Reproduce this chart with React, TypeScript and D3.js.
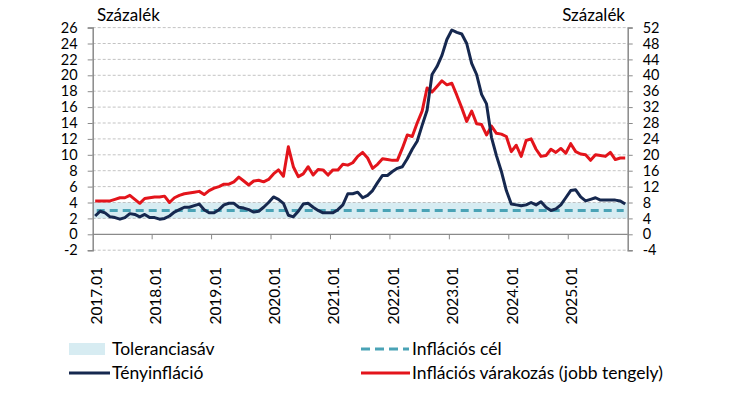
import React, { useEffect, useRef } from "react";
import * as d3 from "d3";

// Categories: monthly, 2017.01 - 2025.12
const years = [2017, 2018, 2019, 2020, 2021, 2022, 2023, 2024, 2025];
const months = years.flatMap((y) =>
  ["01", "02", "03", "04", "05", "06", "07", "08", "09", "10", "11", "12"].map((m) => `${y}.${m}`)
);

// Tényinfláció (left axis, %)
const actualInflation = [
  2.3, 2.9, 2.7, 2.2, 2.1, 1.9, 2.1, 2.6, 2.5, 2.2, 2.5, 2.1,
  2.1, 1.9, 2.0, 2.3, 2.8, 3.1, 3.4, 3.4, 3.6, 3.8, 3.1, 2.7,
  2.7, 3.1, 3.7, 3.9, 3.9, 3.4, 3.3, 3.1, 2.8, 2.9, 3.4, 4.0,
  4.7, 4.4, 3.9, 2.4, 2.2, 2.9, 3.8, 3.9, 3.4, 3.0, 2.7, 2.7,
  2.7, 3.1, 3.7, 5.1, 5.1, 5.3, 4.6, 4.9, 5.5, 6.5, 7.4, 7.4,
  7.9, 8.3, 8.5, 9.5, 10.7, 11.7, 13.7, 15.6, 20.1, 21.1, 22.5, 24.5,
  25.7, 25.4, 25.2, 24.0, 21.5, 20.1, 17.6, 16.4, 12.2, 9.9, 7.9, 5.5,
  3.8, 3.7, 3.6, 3.7, 4.0, 3.7, 4.1, 3.4, 3.0, 3.2, 3.7, 4.6,
  5.5, 5.6, 4.7, 4.2, 4.4, 4.6, 4.3, 4.3, 4.3, 4.3, 4.2, 3.8,
];

// Inflációs várakozás (right axis, %)
const expectations = [
  8.4, 8.4, 8.4, 8.4, 8.8, 9.2, 9.2, 9.8, 8.8, 7.8, 9.0, 9.2,
  9.4, 9.4, 9.6, 8.0, 9.2, 9.8, 10.2, 10.4, 10.6, 10.8, 10.0, 11.0,
  11.6, 12.0, 12.6, 12.6, 13.2, 14.4, 13.4, 12.4, 13.4, 13.6, 13.2, 13.8,
  15.2, 16.2, 14.6, 22.0, 17.0, 14.5, 15.2, 17.0, 14.9, 16.3, 16.2, 14.9,
  16.2, 16.2, 17.6, 17.4, 18.0, 19.6, 20.6, 19.2, 16.6, 17.6, 19.0, 18.8,
  18.6, 18.6, 21.6, 25.0, 24.6, 28.0, 31.0, 36.8, 35.8, 37.2, 38.6, 37.6,
  38.0, 35.0, 31.8, 28.4, 31.0, 27.8, 27.6, 25.0, 27.2, 25.4, 25.2, 24.6,
  20.8, 22.4, 19.6, 23.6, 24.0, 21.4, 19.6, 19.8, 21.4, 20.6, 21.6, 20.4,
  22.8, 20.8, 20.2, 20.0, 18.6, 20.0, 19.8, 19.6, 20.6, 18.8, 19.2, 19.2,
];

// Inflációs cél and toleranciasáv
const target = 3;
const toleranceBand = [2, 4];

const leftTicks = [-2, 0, 2, 4, 6, 8, 10, 12, 14, 16, 18, 20, 22, 24, 26];
const rightTicks = [-4, 0, 4, 8, 12, 16, 20, 24, 28, 32, 36, 40, 44, 48, 52];

const FONT = "Lato, 'Open Sans', sans-serif";

export default function App() {
  const ref = useRef<SVGSVGElement>(null);

  useEffect(() => {
    const svg = d3.select(ref.current);
    svg.selectAll("*").remove();

    const left = 92.7, right = 627.7, top = 27.6, bottom = 250.2;

    const x = d3.scaleBand().domain(months).range([left, right]);
    const yL = d3.scaleLinear().domain([-2, 26]).range([bottom, top]);
    const yR = d3.scaleLinear().domain([-4, 52]).range([bottom, top]);
    const cx = (m: string) => (x(m) as number) + x.bandwidth() / 2;

    // tolerance band
    svg.append("rect")
      .attr("x", left)
      .attr("width", right - left)
      .attr("y", yL(toleranceBand[1]))
      .attr("height", yL(toleranceBand[0]) - yL(toleranceBand[1]))
      .attr("fill", "#d7ecf2");

    // grid
    svg.append("g")
      .selectAll("line")
      .data(leftTicks.filter((t) => t !== 0))
      .join("line")
      .attr("x1", left)
      .attr("x2", right)
      .attr("y1", (d) => yL(d))
      .attr("y2", (d) => yL(d))
      .attr("stroke", "#b4b4b4")
      .attr("stroke-width", 0.8)
      .attr("stroke-dasharray", "3,2");

    // left axis
    const axL = svg.append("g").attr("transform", `translate(${left},0)`)
      .call(d3.axisLeft(yL).tickValues(leftTicks).tickSize(5).tickPadding(10).tickFormat((d) => String(d)));
    axL.select(".domain").attr("stroke", "#8a8a8a").attr("stroke-width", 1.5);
    axL.selectAll(".tick line").attr("stroke", "#8a8a8a");
    axL.selectAll("text").attr("font-family", FONT).attr("font-size", 14.5).attr("fill", "#000");

    // right axis
    const axR = svg.append("g").attr("transform", `translate(${right},0)`)
      .call(d3.axisRight(yR).tickValues(rightTicks).tickSize(5).tickPadding(10).tickFormat((d) => String(d)));
    axR.select(".domain").attr("stroke", "#8a8a8a").attr("stroke-width", 1.5);
    axR.selectAll(".tick line").attr("stroke", "#8a8a8a");
    axR.selectAll("text").attr("font-family", FONT).attr("font-size", 14.5).attr("fill", "#000");

    // x axis at zero
    svg.append("line")
      .attr("x1", left).attr("x2", right)
      .attr("y1", yL(0)).attr("y2", yL(0))
      .attr("stroke", "#8a8a8a").attr("stroke-width", 1.2);

    const januaries = months.filter((m) => m.endsWith(".01"));
    svg.append("g")
      .selectAll("line")
      .data(januaries.slice(1))
      .join("line")
      .attr("x1", (d) => x(d) as number)
      .attr("x2", (d) => x(d) as number)
      .attr("y1", yL(0))
      .attr("y2", yL(0) + 5)
      .attr("stroke", "#8a8a8a");

    svg.append("g")
      .selectAll("text")
      .data(januaries)
      .join("text")
      .attr("transform", (d) => `translate(${cx(d) + 1},267) rotate(-90)`)
      .attr("dy", "0.35em")
      .attr("text-anchor", "end")
      .attr("font-family", FONT)
      .attr("font-size", 15.5)
      .attr("fill", "#000")
      .text((d) => d);

    // target line
    svg.append("line")
      .attr("x1", left + 4).attr("x2", right - 4)
      .attr("y1", yL(target)).attr("y2", yL(target))
      .attr("stroke", "#4aa3b6").attr("stroke-width", 3)
      .attr("stroke-dasharray", "8,5");

    // series
    const lineL = d3.line<number>().x((_, i) => cx(months[i])).y((d) => yL(d));
    const lineR = d3.line<number>().x((_, i) => cx(months[i])).y((d) => yR(d));

    svg.append("path")
      .attr("d", lineR(expectations))
      .attr("fill", "none")
      .attr("stroke", "#e3141b")
      .attr("stroke-width", 3)
      .attr("stroke-linejoin", "round");

    svg.append("path")
      .attr("d", lineL(actualInflation))
      .attr("fill", "none")
      .attr("stroke", "#16284f")
      .attr("stroke-width", 3)
      .attr("stroke-linejoin", "round");

    // axis titles
    svg.append("text").attr("x", 97).attr("y", 21)
      .attr("font-family", FONT).attr("font-size", 17).attr("fill", "#000")
      .text("Százalék");
    svg.append("text").attr("x", 625).attr("y", 21).attr("text-anchor", "end")
      .attr("font-family", FONT).attr("font-size", 17).attr("fill", "#000")
      .text("Százalék");

    // legend
    const lg = svg.append("g").attr("font-family", FONT).attr("font-size", 17.5).attr("fill", "#000");
    lg.append("rect").attr("x", 69).attr("y", 343).attr("width", 36).attr("height", 12).attr("fill", "#d7ecf2");
    lg.append("text").attr("x", 112).attr("y", 355).text("Toleranciasáv");
    lg.append("line").attr("x1", 69).attr("x2", 110).attr("y1", 373).attr("y2", 373)
      .attr("stroke", "#16284f").attr("stroke-width", 3);
    lg.append("text").attr("x", 112).attr("y", 379).text("Tényinfláció");
    lg.append("line").attr("x1", 361).attr("x2", 409).attr("y1", 349).attr("y2", 349)
      .attr("stroke", "#4aa3b6").attr("stroke-width", 3).attr("stroke-dasharray", "9,5");
    lg.append("text").attr("x", 412).attr("y", 355).text("Inflációs cél");
    lg.append("line").attr("x1", 361).attr("x2", 410).attr("y1", 373).attr("y2", 373)
      .attr("stroke", "#e3141b").attr("stroke-width", 3);
    lg.append("text").attr("x", 412).attr("y", 379).text("Inflációs várakozás (jobb tengely)");
  }, []);

  return (
    <svg
      ref={ref}
      width={730}
      height={395}
      style={{ position: "absolute", left: 0, top: 0, background: "#fff" }}
    />
  );
}
